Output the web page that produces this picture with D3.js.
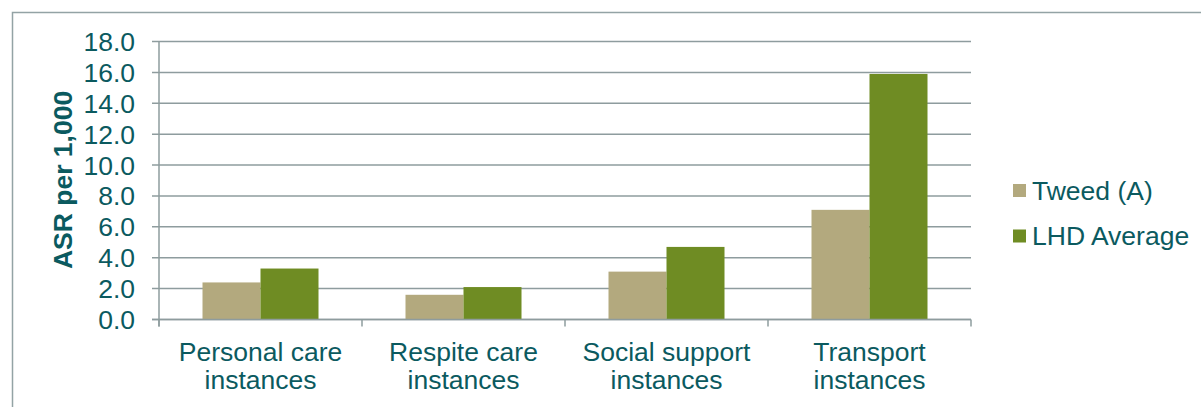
<!DOCTYPE html>
<html>
<head>
<meta charset="utf-8">
<script src="https://cdn.jsdelivr.net/npm/d3@7"></script>
<style>
body { margin: 0; background: #fff; }
svg { display: block; font-family: "Liberation Sans", Arial, sans-serif; }
</style>
</head>
<body>
<script>
var w = 1201;
var h = 407;

// data
var categories = [["Personal care", "instances"], ["Respite care", "instances"], ["Social support", "instances"], ["Transport", "instances"]];
var seriesNames = ["Tweed (A)", "LHD Average"];
var tweed = [2.4, 1.6, 3.1, 7.1];
var lhd = [3.3, 2.1, 4.7, 15.9];
var yTicks = [0, 2, 4, 6, 8, 10, 12, 14, 16, 18];
var colors = ["#b3a97e", "#6f8c23"];

var textColor = "#0b5a5f";
var gridColor = "#8e9c9e";
var fs = 26.5;

var svg = d3.select("body").append("svg").attr("width", w).attr("height", h);

// outer frame (runs off the page on right and bottom)
svg.append("rect")
    .attr("x", 12.5).attr("y", 12.5)
    .attr("width", 1300).attr("height", 500)
    .attr("fill", "none")
    .attr("stroke", "#93a3a5")
    .attr("stroke-width", 1.5);

var plotLeft = 159, plotRight = 971, plotTop = 41.5, plotBottom = 319.5;

var x0 = d3.scaleBand()
    .domain(d3.range(categories.length))
    .range([plotLeft, plotRight])
    .padding(0);

var x1 = d3.scaleBand()
    .domain(d3.range(seriesNames.length))
    .range([0, x0.bandwidth()])
    .paddingInner(0)
    .paddingOuter(0.75);

var y = d3.scaleLinear().domain([0, 18]).range([plotBottom, plotTop]);

// gridlines + tick marks
svg.append("g").selectAll("line")
    .data(yTicks)
    .enter().append("line")
    .attr("x1", plotLeft - 7).attr("x2", plotRight)
    .attr("y1", function (d) { return y(d); })
    .attr("y2", function (d) { return y(d); })
    .attr("stroke", gridColor)
    .attr("stroke-width", 1.5);

// y tick labels
svg.append("g").selectAll("text")
    .data(yTicks)
    .enter().append("text")
    .attr("x", 135)
    .attr("y", function (d) { return y(d); })
    .attr("dy", "0.36em")
    .attr("text-anchor", "end")
    .attr("font-size", fs)
    .attr("fill", textColor)
    .text(function (d) { return d.toFixed(1); });

// bars
var series = [tweed, lhd];
var groups = svg.append("g").selectAll("g")
    .data(categories)
    .enter().append("g")
    .attr("transform", function (d, i) { return "translate(" + x0(i) + ",0)"; });

groups.selectAll("rect")
    .data(function (d, i) { return series.map(function (s, k) { return { k: k, v: s[i] }; }); })
    .enter().append("rect")
    .attr("x", function (d) { return x1(d.k); })
    .attr("width", x1.bandwidth())
    .attr("y", function (d) { return y(d.v); })
    .attr("height", function (d) { return y(0) - y(d.v); })
    .attr("fill", function (d) { return colors[d.k]; });

// axes lines
svg.append("line")
    .attr("x1", plotLeft).attr("x2", plotLeft)
    .attr("y1", plotTop).attr("y2", plotBottom + 7)
    .attr("stroke", gridColor).attr("stroke-width", 1.5);

svg.append("line")
    .attr("x1", plotLeft - 7).attr("x2", plotRight)
    .attr("y1", plotBottom).attr("y2", plotBottom)
    .attr("stroke", gridColor).attr("stroke-width", 1.5);

// category tick marks
svg.append("g").selectAll("line")
    .data(d3.range(categories.length + 1))
    .enter().append("line")
    .attr("x1", function (i) { return plotLeft + i * x0.step(); })
    .attr("x2", function (i) { return plotLeft + i * x0.step(); })
    .attr("y1", plotBottom).attr("y2", plotBottom + 7)
    .attr("stroke", gridColor).attr("stroke-width", 1.5);

// category labels
var labels = svg.append("g").selectAll("text")
    .data(categories)
    .enter().append("text")
    .attr("text-anchor", "middle")
    .attr("font-size", fs)
    .attr("fill", textColor);

labels.selectAll("tspan")
    .data(function (d, i) { return d.map(function (t) { return { t: t, i: i }; }); })
    .enter().append("tspan")
    .attr("x", function (d) { return x0(d.i) + x0.bandwidth() / 2; })
    .attr("y", function (d, j) { return 361 + j * 28; })
    .text(function (d) { return d.t; });

// y axis title
svg.append("text")
    .attr("transform", "translate(72,180) rotate(-90)")
    .attr("text-anchor", "middle")
    .attr("font-size", fs)
    .attr("font-weight", "bold")
    .attr("fill", textColor)
    .text("ASR per 1,000");

// legend
var legend = svg.append("g").selectAll("g")
    .data(seriesNames)
    .enter().append("g")
    .attr("transform", function (d, i) { return "translate(1013," + (184 + i * 45.5) + ")"; });

legend.append("rect")
    .attr("width", 13).attr("height", 13)
    .attr("fill", function (d, i) { return colors[i]; });

legend.append("text")
    .attr("x", 19)
    .attr("y", 15.5)
    .attr("font-size", fs)
    .attr("fill", textColor)
    .text(function (d) { return d; });
</script>
</body>
</html>
